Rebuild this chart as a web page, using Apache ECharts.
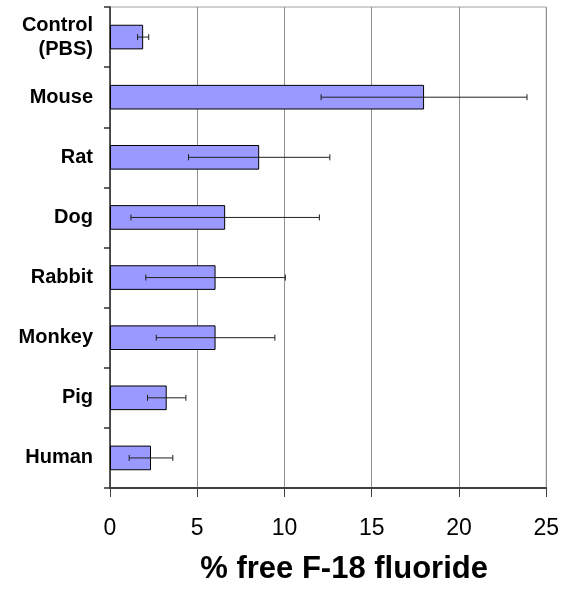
<!DOCTYPE html>
<html>
<head>
<meta charset="utf-8">
<script src="https://cdn.jsdelivr.net/npm/echarts@6/dist/echarts.min.js"></script>
<style>
  html, body { margin: 0; padding: 0; background: #fff; }
  #chart { width: 562px; height: 590px; }
</style>
</head>
<body>
<div id="chart"></div>
<script>
// Species, top to bottom
const categories = ['Control\n(PBS)', 'Mouse', 'Rat', 'Dog', 'Rabbit', 'Monkey', 'Pig', 'Human'];
// Mean % free F-18 fluoride
const meanValues = [1.9, 18.0, 8.55, 6.6, 6.05, 6.05, 3.25, 2.35];
// Standard deviation (symmetric error bars)
const sdValues = [0.32, 5.9, 4.05, 5.4, 4.0, 3.4, 1.1, 1.25];
// Value axis ticks
const xTicks = [0, 5, 10, 15, 20, 25];

const errorData = categories.map((c, i) => [i, meanValues[i] - sdValues[i], meanValues[i] + sdValues[i]]);

const chart = echarts.init(document.getElementById('chart'), null, { renderer: 'canvas' });

chart.setOption({
  animation: false,
  backgroundColor: '#ffffff',
  grid: { left: 110, right: 13, top: 7, bottom: 95, containLabel: false,
          show: true, borderColor: '#a0a0a0', borderWidth: 1 },
  xAxis: {
    type: 'value',
    min: xTicks[0],
    max: xTicks[xTicks.length - 1],
    interval: 5,
    name: '% free F-18 fluoride',
    nameLocation: 'middle',
    nameGap: 66,
    nameTextStyle: { fontFamily: 'Liberation Sans, Arial, sans-serif', fontWeight: 'bold',
                     fontSize: 31, color: '#000', padding: [0, 0, 0, 32] },
    axisLine: { show: true, onZero: false, lineStyle: { color: '#404040', width: 2 } },
    axisTick: { show: true, length: 9, lineStyle: { color: '#404040', width: 1 } },
    axisLabel: { fontFamily: 'Liberation Sans, Arial, sans-serif', fontSize: 23,
                 color: '#000', margin: 29 },
    splitLine: { show: true, lineStyle: { color: '#909090', width: 1 } }
  },
  yAxis: {
    type: 'category',
    data: categories,
    inverse: true,
    boundaryGap: true,
    axisLine: { show: true, lineStyle: { color: '#303030', width: 1.5 } },
    axisTick: { show: true, length: 6, inside: false, lineStyle: { color: '#303030', width: 1.5 } },
    axisLabel: { fontFamily: 'Liberation Sans, Arial, sans-serif', fontWeight: 'bold',
                 fontSize: 20, color: '#000', margin: 17, lineHeight: 24, align: 'right' },
    splitLine: { show: false }
  },
  series: [
    {
      type: 'bar',
      data: meanValues,
      barWidth: '41%',
      itemStyle: { color: '#9999ff', borderColor: '#000', borderWidth: 1 },
      z: 2
    },
    {
      type: 'custom',
      data: errorData,
      z: 3,
      renderItem: function (params, api) {
        const idx = api.value(0);
        const lo = api.coord([api.value(1), idx]);
        const hi = api.coord([api.value(2), idx]);
        const cap = 3;
        const style = { stroke: '#202020', lineWidth: 1 };
        return {
          type: 'group',
          children: [
            { type: 'line', shape: { x1: lo[0], y1: lo[1], x2: hi[0], y2: hi[1] }, style: style },
            { type: 'line', shape: { x1: lo[0], y1: lo[1] - cap, x2: lo[0], y2: lo[1] + cap }, style: style },
            { type: 'line', shape: { x1: hi[0], y1: hi[1] - cap, x2: hi[0], y2: hi[1] + cap }, style: style }
          ]
        };
      }
    }
  ]
});
</script>
</body>
</html>
